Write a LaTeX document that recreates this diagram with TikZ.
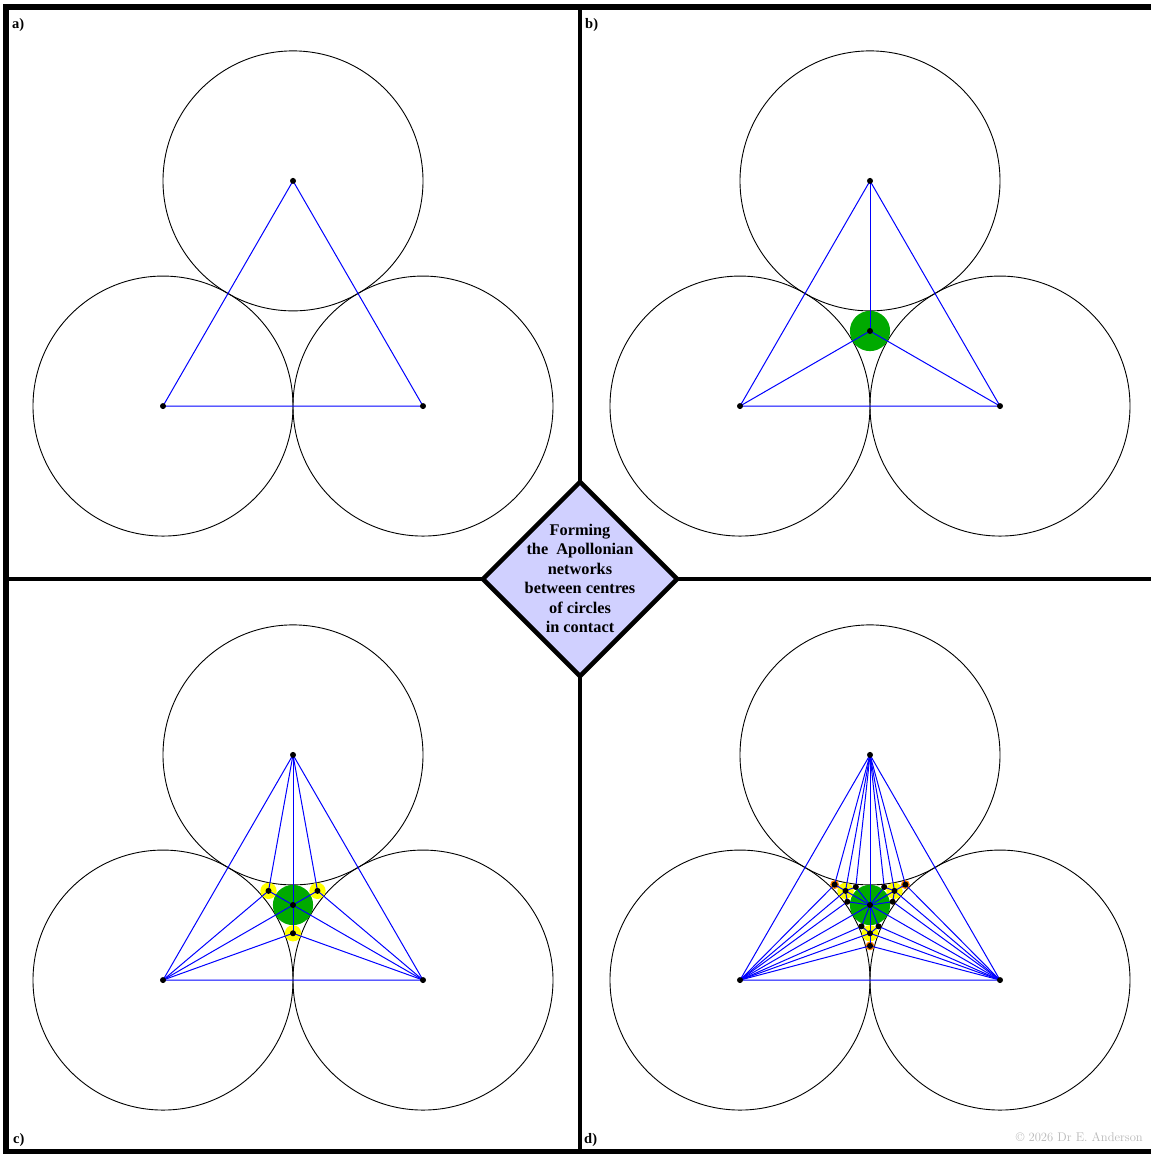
\documentclass[tikz,border=0pt]{standalone}
\usepackage{fontspec}
\newfontfamily\tnr{Liberation Serif}
\usetikzlibrary{shapes.geometric}
\definecolor{lav}{RGB}{208,208,255}
\definecolor{sgreen}{RGB}{0,170,0}
\definecolor{syellow}{RGB}{255,255,0}
\definecolor{sorange}{RGB}{255,128,0}
\definecolor{edgeblue}{RGB}{0,0,255}
\definecolor{cgray}{RGB}{185,185,185}
\tikzset{
 bigc/.style={draw=black, line width=0.9pt},
 edge/.style={draw=edgeblue, line width=1pt},
 dotn/.style={circle, fill=black, inner sep=0pt, minimum size=6pt},
 framel/.style={line width=6pt},
 divl/.style={line width=4.5pt},
 lbl/.style={font=\tnr\bfseries\fontsize{14.5}{14.5}\selectfont, anchor=base west, inner sep=0pt},
 ttl/.style={font=\tnr\bfseries\fontsize{16.3}{19.5}\selectfont, anchor=base, inner sep=0pt},
}
\newcommand{\apolpanel}[4]{%
 \begin{scope}[shift={(#2,#3)}]
  \coordinate (#1A) at (0,-150.11);
  \coordinate (#1B) at (-130,75.06);
  \coordinate (#1C) at (130,75.06);
  \coordinate (#1O) at (0,0);
  \coordinate (#1Yab) at (-24.49,-14.14);
  \coordinate (#1Yca) at (24.49,-14.14);
  \coordinate (#1Ybc) at (0,28.27);
  \coordinate (#1Zab) at (-35.38,-20.43);
  \coordinate (#1Zca) at (35.38,-20.43);
  \coordinate (#1Zbc) at (0,40.86);
  \coordinate (#1Wa1) at (-14.20,-18.03);
  \coordinate (#1Wa2) at (14.20,-18.03);
  \coordinate (#1Wb1) at (-22.71,-3.28);
  \coordinate (#1Wb2) at (-8.52,21.31);
  \coordinate (#1Wc1) at (8.52,21.31);
  \coordinate (#1Wc2) at (22.71,-3.28);
 \end{scope}
 \draw[bigc] (#1A) circle[radius=130pt];
 \draw[bigc] (#1B) circle[radius=130pt];
 \draw[bigc] (#1C) circle[radius=130pt];
 \ifnum#4>1
  \fill[sgreen] (#1O) circle[radius=20.11pt];
 \fi
 \ifnum#4>2
  \fill[syellow] (#1Yab) circle[radius=8.16pt];
  \fill[syellow] (#1Yca) circle[radius=8.16pt];
  \fill[syellow] (#1Ybc) circle[radius=8.16pt];
 \fi
 \ifnum#4>3
  \foreach \p in {Zab,Zca,Zbc}{\fill[sorange] (#1\p) circle[radius=4.42pt];}
  \foreach \p in {Wa1,Wa2,Wb1,Wb2,Wc1,Wc2}{\fill[sorange] (#1\p) circle[radius=2.84pt];}
 \fi
 \draw[edge] (#1A) -- (#1B) -- (#1C) -- cycle;
 \ifnum#4>1
  \foreach \q in {A,B,C}{\draw[edge] (#1O) -- (#1\q);}
 \fi
 \ifnum#4>2
  \foreach \q in {A,B,O}{\draw[edge] (#1Yab) -- (#1\q);}
  \foreach \q in {C,A,O}{\draw[edge] (#1Yca) -- (#1\q);}
  \foreach \q in {B,C,O}{\draw[edge] (#1Ybc) -- (#1\q);}
 \fi
 \ifnum#4>3
  \foreach \q in {A,B,Yab}{\draw[edge] (#1Zab) -- (#1\q);}
  \foreach \q in {C,A,Yca}{\draw[edge] (#1Zca) -- (#1\q);}
  \foreach \q in {B,C,Ybc}{\draw[edge] (#1Zbc) -- (#1\q);}
  \foreach \q in {A,O,Yab}{\draw[edge] (#1Wa1) -- (#1\q);}
  \foreach \q in {A,O,Yca}{\draw[edge] (#1Wa2) -- (#1\q);}
  \foreach \q in {B,O,Yab}{\draw[edge] (#1Wb1) -- (#1\q);}
  \foreach \q in {B,O,Ybc}{\draw[edge] (#1Wb2) -- (#1\q);}
  \foreach \q in {C,O,Ybc}{\draw[edge] (#1Wc1) -- (#1\q);}
  \foreach \q in {C,O,Yca}{\draw[edge] (#1Wc2) -- (#1\q);}
 \fi
 \foreach \p in {A,B,C}{\node[dotn] (#1\p-d) at (#1\p) {};}
 \ifnum#4>1 \node[dotn] (#1O-d) at (#1O) {}; \fi
 \ifnum#4>2
  \foreach \p in {Yab,Yca,Ybc}{\node[dotn] (#1\p-d) at (#1\p) {};}
 \fi
 \ifnum#4>3
  \foreach \p in {Zab,Zca,Zbc,Wa1,Wa2,Wb1,Wb2,Wc1,Wc2}{\node[dotn] (#1\p-d) at (#1\p) {};}
 \fi
}
\begin{document}
\begin{tikzpicture}[x=1pt,y=-1pt]
\useasboundingbox (0,0) rectangle (1151,1154);
\fill[white] (0,0) rectangle (1151,1154);
\apolpanel{a}{293}{331}{1}
\apolpanel{b}{870}{331}{2}
\apolpanel{c}{293}{905}{3}
\apolpanel{d}{870}{905}{4}
\draw[framel] (6,7) rectangle (1153.5,1152);
\draw[divl] (580,7) -- (580,1152);
\draw[divl] (6,579) -- (1153.5,579);
\node[diamond, draw=black, line width=4.5pt, fill=lav, minimum width=196pt, minimum height=196pt, inner sep=0pt] (title) at (580,579) {};
\node[ttl] (t1) at (580,535) {Forming};
\node[ttl] (t2) at (580,554.5) {the\hspace{0.5em}Apollonian};
\node[ttl] (t3) at (580,574) {networks};
\node[ttl] (t4) at (580,593.5) {between centres};
\node[ttl] (t5) at (580,613) {of circles};
\node[ttl] (t6) at (580,632.5) {in contact};
\node[lbl] (la) at (12,28) {a)};
\node[lbl] (lb) at (585,28) {b)};
\node[lbl] (lc) at (13,1143) {c)};
\node[lbl] (ld) at (584,1143) {d)};
\node[anchor=base east, text=cgray, font=\fontsize{12.6}{13}\selectfont, inner sep=0pt] (copy) at (1143,1141.5) {\textcopyright\ 2026 Dr E. Anderson};
\end{tikzpicture}
\end{document}
